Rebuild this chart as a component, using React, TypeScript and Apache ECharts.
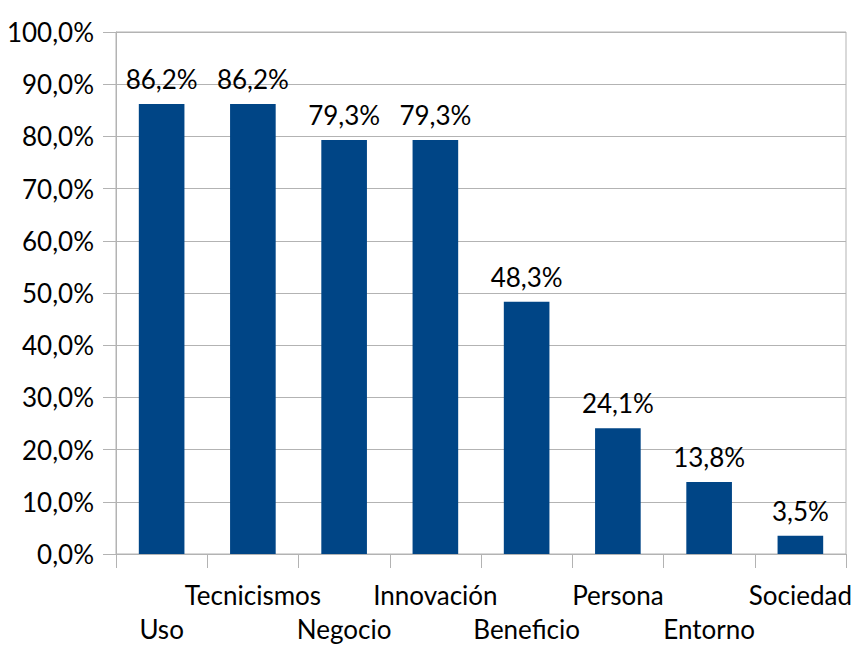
import React, { useEffect, useRef } from "react";
import * as echarts from "echarts";

const categories = ["Uso", "Tecnicismos", "Negocio", "Innovación", "Beneficio", "Persona", "Entorno", "Sociedad"];
const values = [86.2, 86.2, 79.3, 79.3, 48.3, 24.1, 13.8, 3.5];
const yTicks = { min: 0, max: 100, interval: 10 };

const FONT = "Lato";
const GRAY = "#b3b3b3";
const FS = 26;

export default function App() {
  const ref = useRef<HTMLDivElement>(null);
  useEffect(() => {
    document.body.style.margin = "0";
    const chart = echarts.init(ref.current!, null, { renderer: "svg" });
    chart.setOption({
      animation: false,
      textStyle: { fontFamily: FONT },
      grid: { left: 116, right: 19, top: 32, bottom: 99, show: true, borderColor: GRAY, borderWidth: 1 },
      xAxis: {
        type: "category",
        data: categories,
        axisLine: { lineStyle: { color: GRAY } },
        axisTick: { show: true, length: 14, lineStyle: { color: GRAY } },
        axisLabel: {
          interval: 0,
          color: "#000",
          fontFamily: FONT,
          fontSize: FS,
          lineHeight: 34,
          margin: 24,
          formatter: (v: string, i: number) => (i % 2 === 0 ? "\n" + v : v),
        },
      },
      yAxis: {
        type: "value",
        min: yTicks.min,
        max: yTicks.max,
        interval: yTicks.interval,
        axisLine: { show: true, lineStyle: { color: GRAY } },
        axisTick: { show: true, length: 13, lineStyle: { color: GRAY } },
        splitLine: { lineStyle: { color: GRAY } },
        axisLabel: {
          color: "#000",
          fontFamily: FONT,
          fontSize: FS,
          margin: 22,
          formatter: (v: number) => v.toFixed(1).replace(".", ",") + "%",
        },
      },
      series: [
        {
          type: "bar",
          data: values,
          barWidth: "50%",
          itemStyle: { color: "#004586" },
          label: {
            show: true,
            position: "top",
            distance: 12,
            color: "#000",
            fontFamily: FONT,
            fontSize: FS,
            formatter: (p: any) => p.value.toFixed(1).replace(".", ",") + "%",
          },
        },
      ],
    });
    return () => chart.dispose();
  }, []);
  return <div ref={ref} style={{ width: 865, height: 653 }} />;
}
